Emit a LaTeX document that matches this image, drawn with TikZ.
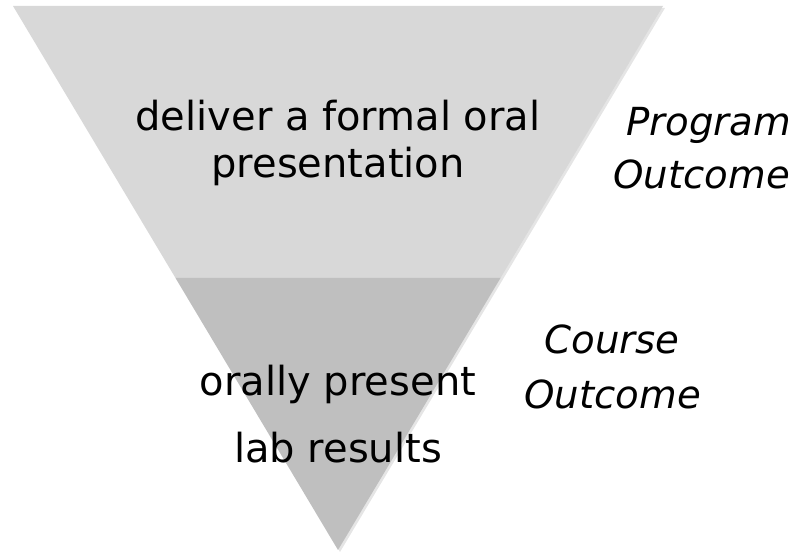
\documentclass[tikz,border=0pt]{standalone}
\usepackage{fontspec}
\setmainfont{DejaVu Sans}
\tikzset{every picture/.style={line width=0.75pt}}
\definecolor{upperband}{RGB}{216,216,216}
\definecolor{lowerband}{RGB}{191,191,191}
\tikzset{
  bandtext/.style={inner sep=0.75pt, align=center, font=\fontsize{30}{35}\selectfont},
  sidetext/.style={inner sep=0.75pt, align=left, font=\fontsize{29}{40}\selectfont\itshape}
}
\begin{document}
\begin{tikzpicture}[x=0.75pt,y=0.75pt,yscale=-1,xscale=1]
\useasboundingbox (0,0) rectangle (808,552);

% Shadow
\fill [black, opacity=0.10] (15,8) -- (665,8) -- (340,552) -- cycle ;
% Upper band
\fill [upperband] (13,6) -- (663,6) -- (500.5,278) -- (175.5,278) -- cycle ;
% Lower band
\fill [lowerband] (175.5,278) -- (500.5,278) -- (338,550) -- cycle ;

% Text Node
\node [bandtext] (oral) at (338,143) {deliver a formal oral\\presentation};
% Text Node
\node [bandtext, font=\fontsize{30}{50}\selectfont] (lab) at (338,414) {orally present\\lab results};
% Text Node
\node [sidetext, anchor=north west] (program) at (625,106) {Program};
\node [sidetext, anchor=north west] (progout) at (612,158) {Outcome};
% Text Node
\node [sidetext, anchor=north west] (course) at (543,323) {Course};
\node [sidetext, anchor=north west] (courseout) at (523,378) {Outcome};

\end{tikzpicture}
\end{document}
